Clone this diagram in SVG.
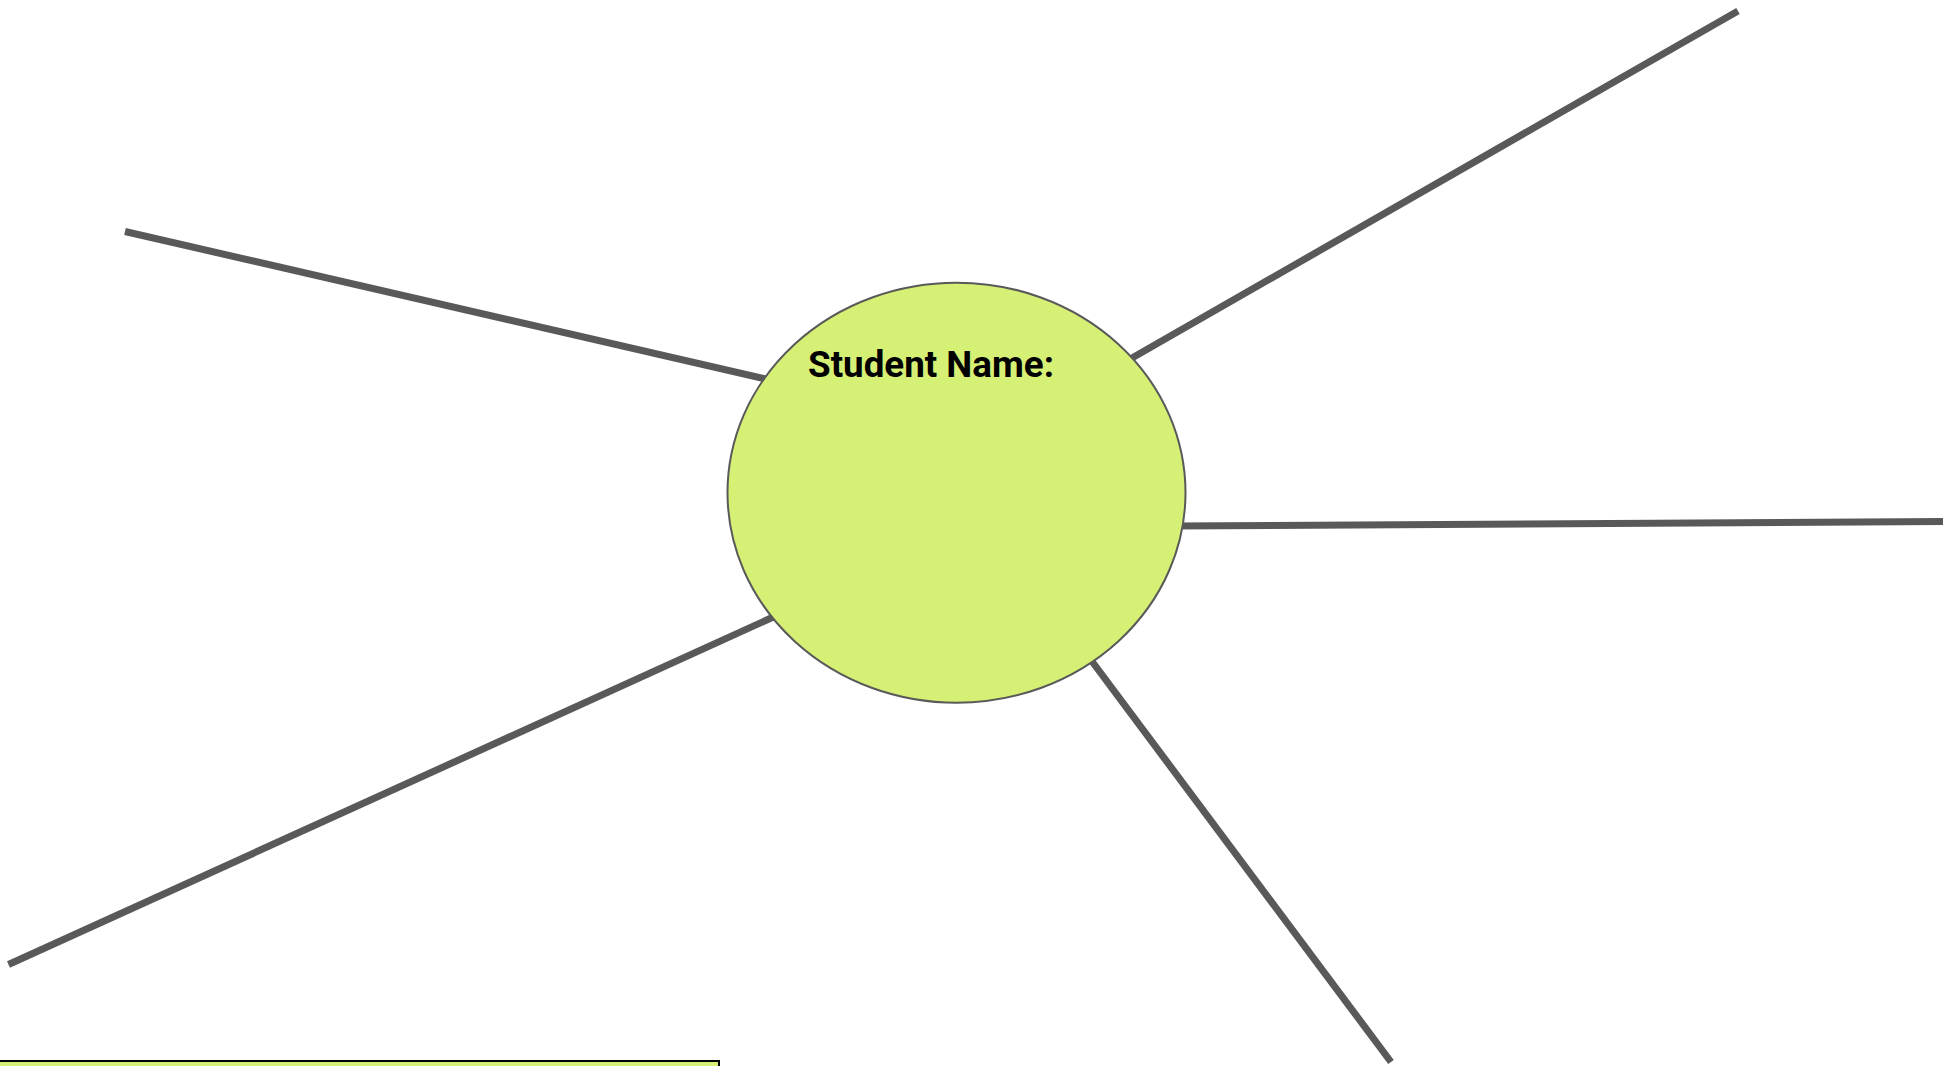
<svg xmlns="http://www.w3.org/2000/svg" width="1958" height="1066" viewBox="0 0 1958 1066">
<style>
.conn{stroke:#595959;stroke-width:7;fill:none}
.bubble{fill:#d6f075;stroke:#595959;stroke-width:2}
.title{font-family:Roboto,"Liberation Sans",sans-serif;font-weight:bold;font-size:37px;fill:#000}
</style>
<rect width="1958" height="1066" fill="#ffffff"/>
<g id="connectors">
<line class="conn" x1="125" y1="231.5" x2="770" y2="380"/>
<line class="conn" x1="1738" y1="11" x2="1125" y2="362"/>
<line class="conn" x1="1943" y1="521.5" x2="1175" y2="526"/>
<line class="conn" x1="1391" y1="1062" x2="1088" y2="656"/>
<line class="conn" x1="8.5" y1="964.5" x2="780" y2="614"/>
</g>
<g id="center">
<ellipse class="bubble" cx="956.5" cy="492.7" rx="229" ry="210"/>
<text class="title" x="808" y="376.5" textLength="246" lengthAdjust="spacingAndGlyphs">Student Name:</text>
</g>
<g id="bottom-box">
<rect x="-2" y="1061" width="721" height="20" fill="#d6f075" stroke="#000" stroke-width="2"/>
</g>
</svg>
